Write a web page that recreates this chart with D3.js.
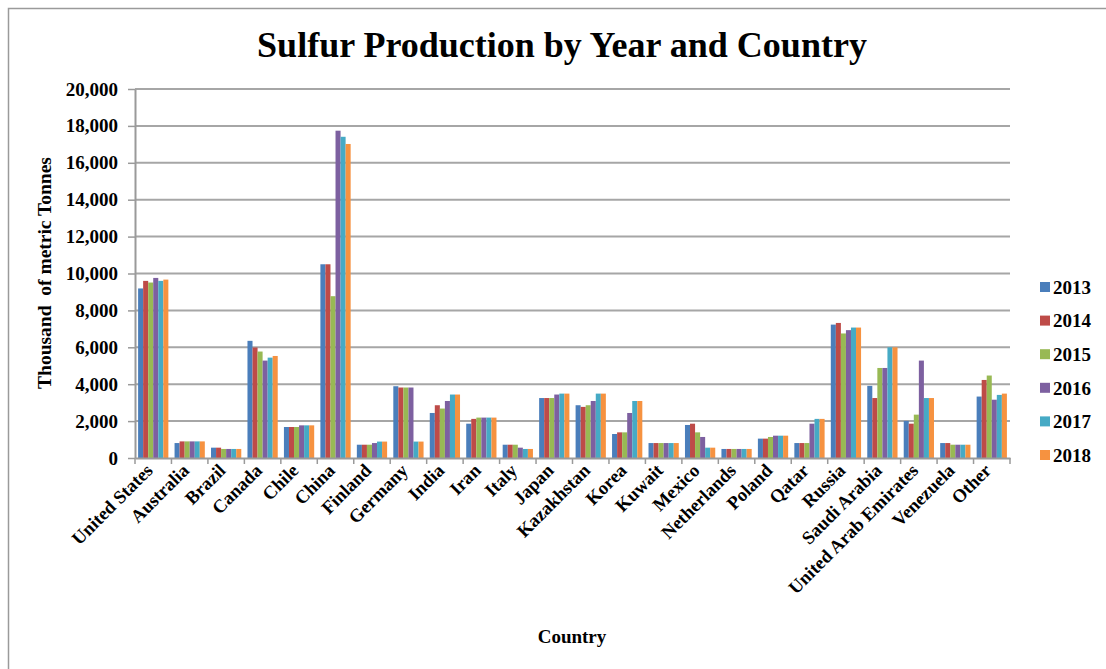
<!DOCTYPE html>
<html>
<head>
<meta charset="utf-8">
<script src="https://cdn.jsdelivr.net/npm/d3@7"></script>
<style>
  body { margin: 0; background: #fff; }
  text { font-family: "Liberation Serif", "Times New Roman", serif; font-weight: bold; }
</style>
</head>
<body>
<svg id="chart" width="1106" height="669"></svg>
<script>
// data (thousand metric tonnes)
const countries = ["United States", "Australia", "Brazil", "Canada", "Chile", "China", "Finland", "Germany",
  "India", "Iran", "Italy", "Japan", "Kazakhstan", "Korea", "Kuwait", "Mexico", "Netherlands", "Poland",
  "Qatar", "Russia", "Saudi Arabia", "United Arab Emirates", "Venezuela", "Other"];
const years = ["2013", "2014", "2015", "2016", "2017", "2018"];
const colors = ["#4a7ebb", "#be4b48", "#98b954", "#7d60a0", "#46aac5", "#f69240"];

const v2013 = [9190, 810, 560, 6350, 1680, 10500, 720, 3890, 2440, 1860, 720, 3250, 2860, 1300, 810, 1790, 490, 1050, 810, 7230, 3910, 2010, 810, 3330];
const v2014 = [9600, 900, 560, 5990, 1680, 10500, 720, 3820, 2860, 2120, 720, 3250, 2770, 1390, 810, 1860, 490, 1050, 810, 7320, 3250, 1860, 810, 4230];
const v2015 = [9510, 900, 490, 5770, 1680, 8770, 720, 3820, 2680, 2190, 720, 3250, 2860, 1390, 810, 1390, 490, 1140, 810, 6750, 4880, 2350, 720, 4470];
const v2016 = [9760, 900, 490, 5280, 1770, 17740, 810, 3820, 3090, 2190, 560, 3440, 3090, 2440, 810, 1140, 490, 1210, 1860, 6930, 4880, 5280, 720, 3160];
const v2017 = [9600, 900, 490, 5440, 1770, 17410, 890, 890, 3440, 2190, 490, 3490, 3490, 3090, 810, 560, 490, 1210, 2120, 7070, 6000, 3250, 720, 3420];
const v2018 = [9670, 900, 490, 5530, 1770, 17020, 890, 890, 3440, 2190, 490, 3490, 3490, 3090, 810, 560, 490, 1210, 2120, 7070, 6000, 3250, 720, 3490];
const series = [v2013, v2014, v2015, v2016, v2017, v2018];
const yTicks = [0, 2000, 4000, 6000, 8000, 10000, 12000, 14000, 16000, 18000, 20000];

const svg = d3.select("#chart");
const margin = { left: 135, right: 96, top: 89, bottom: 211 };
const W = 1106, H = 669;
const iw = W - margin.left - margin.right;
const ih = H - margin.top - margin.bottom;

// chart border
svg.append("path")
  .attr("d", "M8.5,669 V8.5 H1106")
  .attr("fill", "none").attr("stroke", "#9a9a9a").attr("stroke-width", 1.5);

const g = svg.append("g").attr("transform", `translate(${margin.left},${margin.top})`);

const x0 = d3.scaleBand().domain(countries).range([0, iw]).padding(0);
const x1 = d3.scaleBand().domain(years)
  .range([x0.bandwidth() * 0.085, x0.bandwidth() * 0.915]).padding(0);
const y = d3.scaleLinear().domain([0, 20000]).range([ih, 0]);

// gridlines
g.selectAll(".grid").data(yTicks.slice(1)).enter().append("line")
  .attr("x1", 0).attr("x2", iw)
  .attr("y1", d => y(d)).attr("y2", d => y(d))
  .attr("stroke", "#a6a6a6").attr("stroke-width", 2);

// bars
const groups = g.selectAll(".grp").data(countries).enter().append("g")
  .attr("transform", d => `translate(${x0(d)},0)`);
groups.selectAll("rect").data((c, i) => years.map((yr, k) => ({ yr, k, v: series[k][i] })))
  .enter().append("rect")
  .attr("x", d => x1(d.yr))
  .attr("y", d => y(d.v))
  .attr("width", x1.bandwidth())
  .attr("height", d => ih - y(d.v))
  .attr("fill", d => colors[d.k]);

// y axis
const yAxis = g.append("g")
  .call(d3.axisLeft(y).tickValues(yTicks).tickSize(7).tickSizeOuter(0).tickFormat(d3.format(",")));
yAxis.select(".domain").attr("stroke", "#9a9a9a").attr("stroke-width", 2);
yAxis.selectAll(".tick line").attr("stroke", "#9a9a9a").attr("stroke-width", 1.5);
yAxis.selectAll(".tick text").attr("font-size", 19).attr("fill", "#000").attr("dx", "-7")
  .style("font-family", "'Liberation Serif', serif").style("font-weight", "bold");

// x axis
const xAxis = g.append("g").attr("transform", `translate(0,${ih})`)
  .call(d3.axisBottom(x0).tickSize(0).tickSizeOuter(0));
xAxis.select(".domain").attr("stroke", "#9a9a9a").attr("stroke-width", 2);
xAxis.selectAll(".tick text")
  .attr("font-size", 18.5).attr("fill", "#000")
  .style("font-family", "'Liberation Serif', serif").style("font-weight", "bold")
  .attr("text-anchor", "end")
  .attr("transform", "translate(-4,9) rotate(-45)")
  .attr("dy", "0.35em").attr("y", 0);
// tick marks between categories
g.append("g").selectAll("line").data(countries.concat(["end"])).enter().append("line")
  .attr("x1", (d, i) => i * x0.step()).attr("x2", (d, i) => i * x0.step())
  .attr("y1", ih).attr("y2", ih + 6)
  .attr("stroke", "#9a9a9a").attr("stroke-width", 1.5);

// title
svg.append("text").attr("x", 562).attr("y", 57).attr("text-anchor", "middle")
  .attr("font-size", 36).text("Sulfur Production by Year and Country");

// axis titles
svg.append("text").attr("transform", "translate(51,273) rotate(-90)")
  .attr("text-anchor", "middle").attr("font-size", 19.5)
  .style("white-space", "pre").text("Thousand  of metric Tonnes");
svg.append("text").attr("x", 572).attr("y", 643).attr("text-anchor", "middle")
  .attr("font-size", 19).text("Country");

// legend
const legend = svg.append("g").attr("transform", "translate(1040,287)");
const li = legend.selectAll("g").data(years).enter().append("g")
  .attr("transform", (d, i) => `translate(0,${i * 33.6})`);
li.append("rect").attr("x", 0).attr("y", -5).attr("width", 10).attr("height", 10)
  .attr("fill", (d, i) => colors[i]);
li.append("text").attr("x", 13).attr("y", 0).attr("dy", "0.36em")
  .attr("font-size", 19).text(d => d);
</script>
</body>
</html>
